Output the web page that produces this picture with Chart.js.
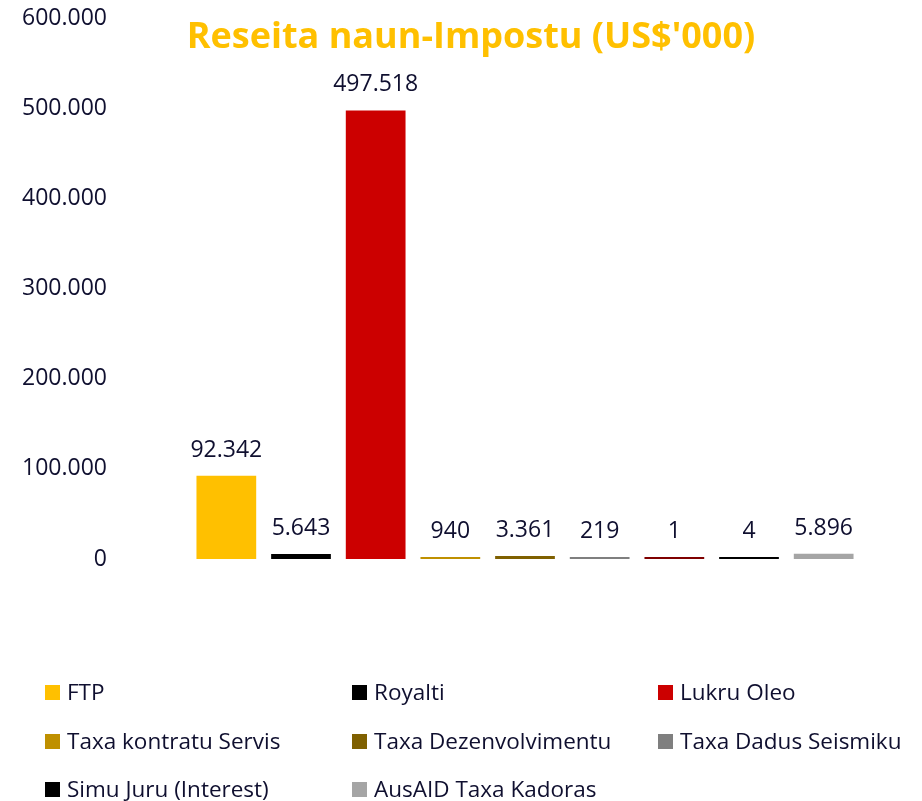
<!DOCTYPE html>
<html>
<head>
<meta charset="utf-8">
<script src="https://cdn.jsdelivr.net/npm/chart.js@4/dist/chart.umd.min.js"></script>
<style>
  body { margin: 0; background: #fff; font-family: 'Open Sans', sans-serif; color: #0f0f2f; }
  #wrap { position: relative; width: 922px; height: 801px; }
  #title {
    position: absolute; left: 471px; top: 17px; transform: translateX(-50%);
    font: bold 36px/1 'Open Sans', sans-serif; color: #ffc000; white-space: nowrap;
  }
  .leg { position: absolute; height: 24px; display: flex; align-items: center; font: 22.5px/24px 'Open Sans', sans-serif; white-space: nowrap; }
  .leg span.box { width: 15px; height: 15px; margin-right: 7px; flex: none; }
</style>
</head>
<body>
<div id="wrap">
  <canvas id="chart" width="922" height="801"></canvas>
  <div id="title">Reseita naun-Impostu (US$'000)</div>
  <div id="legend"></div>
</div>
<script>
// categories (the dark red one has no entry in the legend)
const categories = ['FTP', 'Royalti', 'Lukru Oleo', 'Taxa kontratu Servis', 'Taxa Dezenvolvimentu',
  'Taxa Dadus Seismiku', '', 'Simu Juru (Interest)', 'AusAID Taxa Kadoras']
const values = [92342, 5643, 497518, 940, 3361, 219, 1, 4, 5896]
const colors = ['#ffc000', '#000000', '#cc0000', '#bf9000', '#7f6000', '#7f7f7f', '#7f0000', '#000000', '#a5a5a5']
const yTicks = [0, 100000, 200000, 300000, 400000, 500000, 600000]

// legend order / placement (3 columns)
const legendOrder = [0, 1, 2, 3, 4, 5, 7, 8]
const legendCols = [45, 352, 658]
const legendRows = [680, 729, 777]

const textColor = '#0f0f2f'

function fmt(v) {
  return String(v).replace(/\B(?=(\d{3})+(?!\d))/g, '.')
}

const valueLabels = {
  id: 'valueLabels',
  afterDatasetsDraw(chart) {
    const ctx = chart.ctx
    const meta = chart.getDatasetMeta(0)
    ctx.save()
    ctx.font = '23px "Open Sans", sans-serif'
    ctx.fillStyle = textColor
    ctx.textAlign = 'center'
    ctx.textBaseline = 'alphabetic'
    meta.data.forEach((bar, i) => {
      ctx.fillText(fmt(values[i]), bar.x, bar.y - 19)
    })
    ctx.restore()
  },
}

new Chart(document.getElementById('chart'), {
  type: 'bar',
  data: {
    labels: categories,
    datasets: [
      {
        data: values,
        backgroundColor: colors,
        barPercentage: 0.8,
        categoryPercentage: 1,
        minBarLength: 2,
      },
    ],
  },
  options: {
    responsive: false,
    animation: false,
    layout: { padding: { top: 18, right: 61, bottom: 242, left: 0 } },
    plugins: {
      legend: { display: false },
      tooltip: { enabled: false },
    },
    scales: {
      x: { display: false },
      y: {
        min: 0,
        max: 600000,
        afterBuildTicks: (scale) => {
          scale.ticks = yTicks.map((v) => ({ value: v }))
        },
        afterFit: (scale) => {
          // wide gap between labels and bars, without the vertical padding that tick padding adds
          scale.width = 189
          scale.paddingTop = 14
          scale.paddingBottom = 14
        },
        grid: { display: false, drawTicks: false },
        border: { display: false },
        ticks: {
          padding: 82,
          color: textColor,
          font: { family: 'Open Sans', size: 23 },
          callback: (v) => fmt(v),
        },
      },
    },
  },
  plugins: [valueLabels],
})

// html legend
const legend = document.getElementById('legend')
legendOrder.forEach((idx, n) => {
  const item = document.createElement('div')
  item.className = 'leg'
  item.style.left = legendCols[n % 3] + 'px'
  item.style.top = legendRows[Math.floor(n / 3)] + 'px'
  item.innerHTML = '<span class="box" style="background:' + colors[idx] + '"></span>' + categories[idx]
  legend.appendChild(item)
})
</script>
</body>
</html>
